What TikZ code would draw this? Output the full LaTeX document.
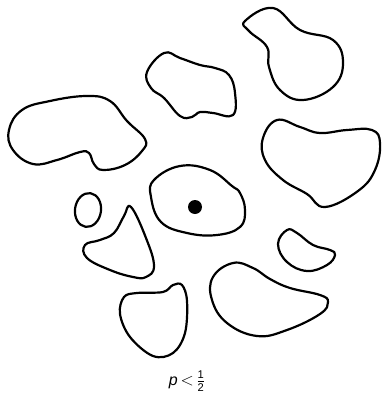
\documentclass[tikz,border=0pt]{standalone}
\usepackage{amsmath}
\usepackage{fontspec}
\newfontfamily\labelfont{Liberation Sans}
\usetikzlibrary{positioning}

\begin{document}
\begin{tikzpicture}[x=1pt,y=-1pt,
    cluster/.style={line width=2.2pt,line join=round}]
    \useasboundingbox (0,0) rectangle (382,394);
    % top right
    \draw[cluster] plot[smooth cycle,tension=0.7] coordinates {(245,21) (273,8)
      (300,30) (333,40) (343,63) (333,87) (303,100) (280,90) (269,67)
      (267,47) (249,31)};
    % top middle
    \draw[cluster] plot[smooth cycle,tension=0.7] coordinates {(164,53) (147,72)
      (151,88) (164,98) (180,116) (192,117) (200,112) (213,113) (233,115)
      (235,93) (229,75) (215,68) (200,65) (180,58)};
    % left
    \draw[cluster] plot[smooth cycle,tension=0.7] coordinates {(9,130) (22,110)
      (50,101) (87,96) (110,101) (127,121) (145,139) (142,151) (125,165)
      (103,170) (94,164) (89,153) (80,152) (57,160) (33,164) (13,150)};
    % right
    \draw[cluster] plot[smooth cycle,tension=0.7] coordinates {(277,120) (263,138)
      (265,160) (283,180) (307,194) (325,207) (358,191) (375,170) (380,143)
      (372,130) (347,130) (320,133) (300,127)};
    % centre
    \draw[cluster] plot[smooth cycle,tension=0.7] coordinates {(180,166) (154,180)
      (151,197) (161,222) (187,233) (217,235) (240,227) (245,210) (240,193)
      (232,186) (210,170)};
    \fill (195,207) circle[radius=7];
    % small oval
    \draw[cluster,rotate around={-8:(88,210)}] (88,210) ellipse[x radius=13,y radius=17];
    % triangle
    \draw[cluster] plot[smooth cycle,tension=0.7] coordinates {(131,207) (146,238)
      (154,266) (146,277) (133,277) (110,270) (87,258) (85,245) (100,240)
      (114,233) (124,216)};
    % small right
    \draw[cluster] plot[smooth cycle,tension=0.7] coordinates {(287,230) (278,244)
      (287,262) (307,271) (327,265) (335,255) (330,250) (313,245) (297,233)};
    % bottom right
    \draw[cluster] plot[smooth cycle,tension=0.7] coordinates {(233,263) (213,277)
      (212,300) (227,323) (257,336) (287,330) (320,314) (328,302) (320,295)
      (290,288) (270,279) (253,268)};
    % bottom middle
    \draw[cluster] plot[smooth cycle,tension=0.6] coordinates {(124,297) (120,314)
      (130,337) (153,356) (173,353) (185,333) (187,301) (182,285) (173,285)
      (163,292) (137,293)};
    \node[font=\labelfont\fontsize{16}{19}\selectfont] (prob) at (187,381)
      {\itshape p\upshape\,$<$\,$\tfrac{\text{1}}{\text{2}}$};
\end{tikzpicture}
\end{document}
